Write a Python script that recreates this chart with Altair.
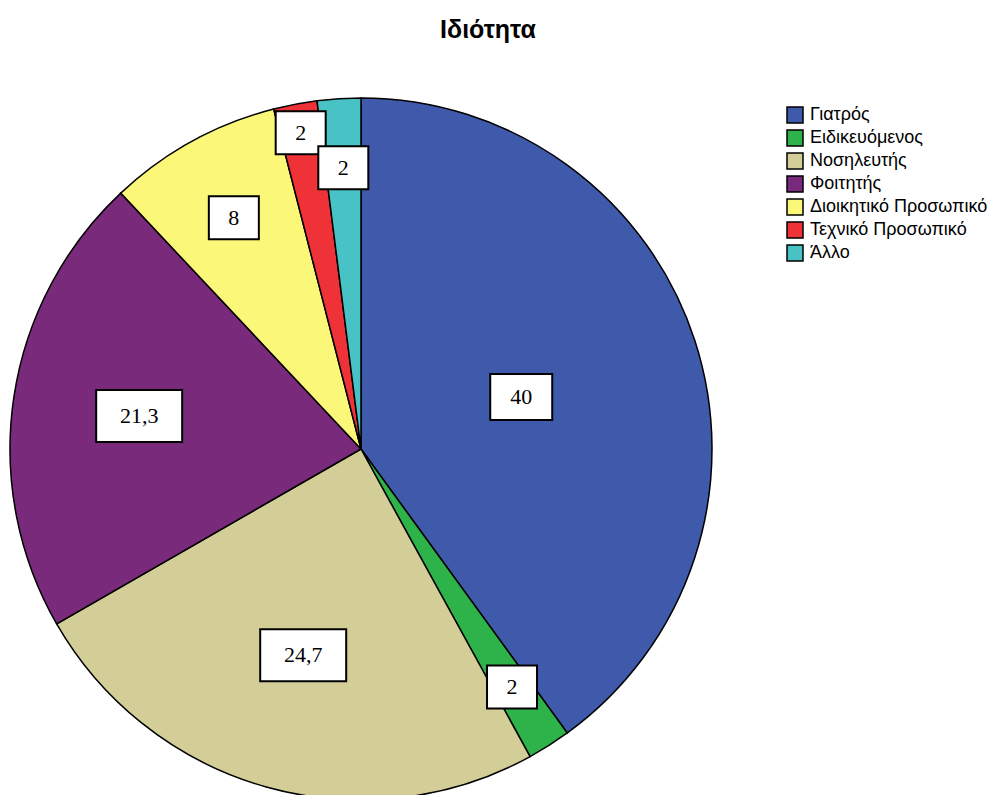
import altair as alt
import pandas as pd

categories = ["Γιατρός", "Ειδικευόμενος", "Νοσηλευτής", "Φοιτητής",
              "Διοικητικό Προσωπικό", "Τεχνικό Προσωπικό", "Άλλο"]
values = [40, 2, 24.7, 21.3, 8, 2, 2]
colors = ["#3F59AB", "#2DB34A", "#D3CE97", "#7A2A7B", "#FBF778", "#EF3237", "#48C2C5"]
title_text = "Ιδιότητα"

labels = [(str(v) if not float(v).is_integer() else str(int(v))).replace(".", ",") for v in values]
df = pd.DataFrame({"cat": categories, "value": values, "idx": list(range(len(values))), "label": labels})

W, H = 988, 787
CX, CY, R = 353, 441, 351

base = alt.Chart(df)

arcs = base.mark_arc(outerRadius=R, stroke="black", strokeWidth=1.5, opacity=1).encode(
    theta=alt.Theta("value:Q", stack=True),
    order=alt.Order("idx:Q", sort="ascending"),
    color=alt.Color("cat:N", scale=alt.Scale(domain=categories, range=colors),
                    sort=categories,
                    legend=alt.Legend(title=None, orient="none", legendX=778, legendY=98,
                                      symbolType="square", symbolSize=256,
                                      symbolStrokeColor="black", symbolStrokeWidth=1.5,
                                      symbolOpacity=1,
                                      labelFont="Liberation Sans", labelFontSize=18,
                                      labelColor="black", labelOffset=6, rowPadding=1,
                                      labelLimit=400)),
    x=alt.value(CX), y=alt.value(CY),
)

lab = base.transform_window(
    cum="sum(value)", nxt="lead(value)", sort=[alt.SortField("idx")], frame=[None, 0]
).transform_joinaggregate(
    total="sum(value)"
).transform_calculate(
    mid="(datum.cum - datum.value/2)/datum.total*2*PI",
    r=f"{R}*(0.82 - 0.0085*datum.value) + ((datum.value < 5 && datum.nxt != null && datum.nxt < 5) ? 40 : 0)",
).transform_calculate(
    lx=f"{CX} + datum.r*sin(datum.mid)",
    ly=f"{CY} - datum.r*cos(datum.mid)",
    bw="38 + 12*length(datum.label)",
    bh="40 + 3*length(datum.label)",
).transform_calculate(
    x1="datum.lx - datum.bw/2", x2="datum.lx + datum.bw/2",
    y1="datum.ly - datum.bh/2", y2="datum.ly + datum.bh/2",
)

boxes = lab.mark_rect(fill="white", stroke="black", strokeWidth=2).encode(
    x=alt.X("x1:Q", scale=None), x2="x2:Q",
    y=alt.Y("y1:Q", scale=None), y2="y2:Q",
)
texts = lab.mark_text(font="Liberation Serif", fontSize=22, color="black",
                      align="center", baseline="middle").encode(
    x=alt.X("lx:Q", scale=None), y=alt.Y("ly:Q", scale=None), text="label:N"
)

title = alt.Chart(pd.DataFrame({"t": [title_text]})).mark_text(
    font="Liberation Sans", fontSize=25, fontWeight="bold", color="black",
    align="center", baseline="alphabetic"
).encode(text="t:N", x=alt.value(480), y=alt.value(30))

chart = alt.layer(arcs, boxes, texts, title).properties(
    width=W, height=H, padding=0, autosize=alt.AutoSizeParams(type="none")
).configure_view(stroke=None)

chart.save("out.html", embed_options={"renderer": "svg", "actions": False})
